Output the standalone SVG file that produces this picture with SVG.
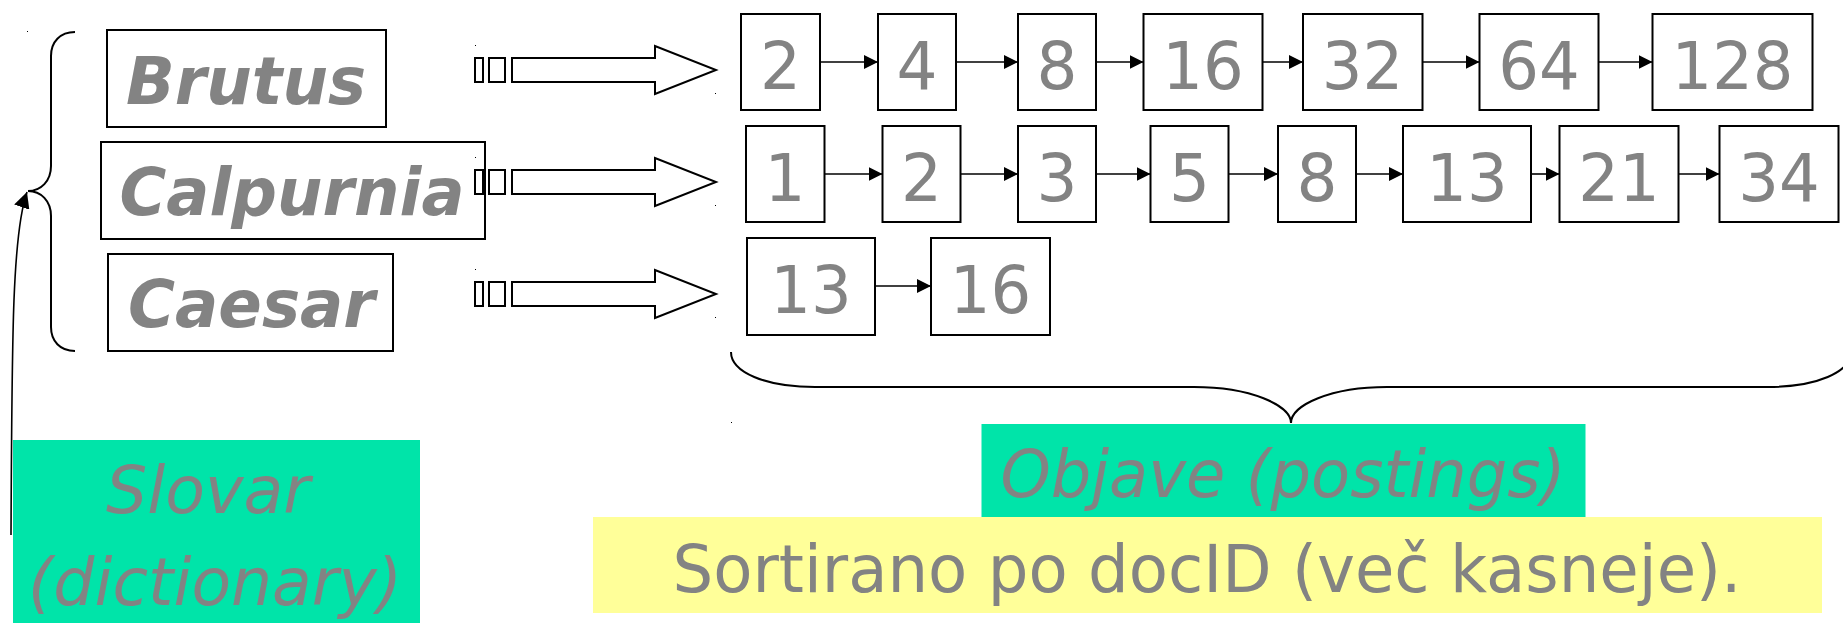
<svg xmlns="http://www.w3.org/2000/svg" width="1843" height="623" viewBox="0 0 1843 623">
  <style>
    .term rect { fill: #ffffff; stroke: #000000; stroke-width: 2; }
    .term text { font-family: "DejaVu Sans", "Noto Sans", sans-serif; font-size: 65px; font-weight: bold; font-style: italic; fill: #838383; text-anchor: middle; }
    .post rect { fill: #ffffff; stroke: #000000; stroke-width: 2; }
    .post text { font-family: "DejaVu Sans", "Noto Sans", sans-serif; font-size: 66px; fill: #838383; text-anchor: middle; }
    .link { stroke: #000000; stroke-width: 1.6; fill: none; }
    .brace { stroke: #000000; stroke-width: 2; fill: none; }
    .block { fill: #ffffff; stroke: #000000; stroke-width: 2; }
    .tick { fill: #000000; }
    .caption { font-family: "DejaVu Sans", "Noto Sans", sans-serif; font-size: 66px; fill: #838383; text-anchor: middle; }
  </style>
  <defs>
    <marker id="head" viewBox="0 0 14 14" refX="14" refY="7" markerWidth="14" markerHeight="14" markerUnits="userSpaceOnUse" orient="auto">
      <path d="M0,0 L14,7 L0,14 Z" fill="#000000"/>
    </marker>
    <marker id="headBig" viewBox="0 0 16 16" refX="16" refY="8" markerWidth="16" markerHeight="16" markerUnits="userSpaceOnUse" orient="auto">
      <path d="M0,0 L16,8 L0,16 Z" fill="#000000"/>
    </marker>
  </defs>

  <rect width="1843" height="623" fill="#ffffff"/>

  <!-- dictionary terms -->
  <g id="term-brutus" class="term">
    <rect x="107" y="30" width="279" height="97"/>
    <text x="246" y="104" textLength="240" lengthAdjust="spacingAndGlyphs">Brutus</text>
  </g>
  <g id="term-calpurnia" class="term">
    <rect x="101" y="142" width="384" height="97"/>
    <text x="292" y="215" textLength="345" lengthAdjust="spacingAndGlyphs">Calpurnia</text>
  </g>
  <g id="term-caesar" class="term">
    <rect x="108" y="254" width="285" height="97"/>
    <text x="251.5" y="327" textLength="247" lengthAdjust="spacingAndGlyphs">Caesar</text>
  </g>

  <!-- pointer arrows from terms to their lists -->
  <g id="pointer-1">
    <rect class="block" x="475" y="58" width="8" height="24"/>
    <rect class="block" x="489" y="58" width="16" height="24"/>
    <polygon class="block" points="512,58 655,58 655,46 716,70 655,94 655,82 512,82"/>
  </g>
  <g id="pointer-2">
    <rect class="block" x="475" y="170" width="8" height="24"/>
    <rect class="block" x="489" y="170" width="16" height="24"/>
    <polygon class="block" points="512,170 655,170 655,158 716,182 655,206 655,194 512,194"/>
  </g>
  <g id="pointer-3">
    <rect class="block" x="475" y="282" width="8" height="24"/>
    <rect class="block" x="489" y="282" width="16" height="24"/>
    <polygon class="block" points="512,282 655,282 655,270 716,294 655,318 655,306 512,306"/>
  </g>

  <!-- postings: Brutus -->
  <g id="p1-2" class="post"><rect x="741" y="14" width="79" height="96"/><text x="780.5" y="89" textLength="41" lengthAdjust="spacingAndGlyphs">2</text></g>
  <g id="p1-4" class="post"><rect x="878" y="14" width="78" height="96"/><text x="917" y="89" textLength="41" lengthAdjust="spacingAndGlyphs">4</text></g>
  <g id="p1-8" class="post"><rect x="1018" y="14" width="78" height="96"/><text x="1057" y="89" textLength="41" lengthAdjust="spacingAndGlyphs">8</text></g>
  <g id="p1-16" class="post"><rect x="1143.5" y="14" width="119" height="96"/><text x="1203" y="89" textLength="81.5" lengthAdjust="spacingAndGlyphs">16</text></g>
  <g id="p1-32" class="post"><rect x="1303" y="14" width="119.5" height="96"/><text x="1362.5" y="89" textLength="81.5" lengthAdjust="spacingAndGlyphs">32</text></g>
  <g id="p1-64" class="post"><rect x="1479.5" y="14" width="119" height="96"/><text x="1539" y="89" textLength="81.5" lengthAdjust="spacingAndGlyphs">64</text></g>
  <g id="p1-128" class="post"><rect x="1652.5" y="14" width="160" height="96"/><text x="1732.5" y="89" textLength="122" lengthAdjust="spacingAndGlyphs">128</text></g>

  <!-- postings: Calpurnia -->
  <g id="p2-1" class="post"><rect x="746" y="126" width="78.5" height="96"/><text x="785" y="200.5" textLength="41" lengthAdjust="spacingAndGlyphs">1</text></g>
  <g id="p2-2" class="post"><rect x="882.5" y="126" width="78" height="96"/><text x="921.5" y="200.5" textLength="41" lengthAdjust="spacingAndGlyphs">2</text></g>
  <g id="p2-3" class="post"><rect x="1018" y="126" width="78" height="96"/><text x="1057" y="200.5" textLength="41" lengthAdjust="spacingAndGlyphs">3</text></g>
  <g id="p2-5" class="post"><rect x="1150.5" y="126" width="78" height="96"/><text x="1189.5" y="200.5" textLength="41" lengthAdjust="spacingAndGlyphs">5</text></g>
  <g id="p2-8" class="post"><rect x="1278" y="126" width="78" height="96"/><text x="1317" y="200.5" textLength="41" lengthAdjust="spacingAndGlyphs">8</text></g>
  <g id="p2-13" class="post"><rect x="1403" y="126" width="128" height="96"/><text x="1467" y="200.5" textLength="81.5" lengthAdjust="spacingAndGlyphs">13</text></g>
  <g id="p2-21" class="post"><rect x="1559.5" y="126" width="119" height="96"/><text x="1619" y="200.5" textLength="81.5" lengthAdjust="spacingAndGlyphs">21</text></g>
  <g id="p2-34" class="post"><rect x="1719.5" y="126" width="119" height="96"/><text x="1779" y="200.5" textLength="81.5" lengthAdjust="spacingAndGlyphs">34</text></g>

  <!-- postings: Caesar -->
  <g id="p3-13" class="post"><rect x="747" y="238" width="128" height="97"/><text x="811" y="312.5" textLength="81.5" lengthAdjust="spacingAndGlyphs">13</text></g>
  <g id="p3-16" class="post"><rect x="931" y="238" width="119" height="97"/><text x="990.5" y="312.5" textLength="81.5" lengthAdjust="spacingAndGlyphs">16</text></g>

  <!-- list links -->
  <g id="connectors">
    <line class="link" x1="820" y1="62" x2="878" y2="62" marker-end="url(#head)"/>
    <line class="link" x1="956" y1="62" x2="1018" y2="62" marker-end="url(#head)"/>
    <line class="link" x1="1096" y1="62" x2="1143.5" y2="62" marker-end="url(#head)"/>
    <line class="link" x1="1262.5" y1="62" x2="1303" y2="62" marker-end="url(#head)"/>
    <line class="link" x1="1422.5" y1="62" x2="1479.5" y2="62" marker-end="url(#head)"/>
    <line class="link" x1="1598.5" y1="62" x2="1652.5" y2="62" marker-end="url(#head)"/>

    <line class="link" x1="824.5" y1="174" x2="882.5" y2="174" marker-end="url(#head)"/>
    <line class="link" x1="960.5" y1="174" x2="1018" y2="174" marker-end="url(#head)"/>
    <line class="link" x1="1096" y1="174" x2="1150.5" y2="174" marker-end="url(#head)"/>
    <line class="link" x1="1228.5" y1="174" x2="1278" y2="174" marker-end="url(#head)"/>
    <line class="link" x1="1356" y1="174" x2="1403" y2="174" marker-end="url(#head)"/>
    <line class="link" x1="1531" y1="174" x2="1559.5" y2="174" marker-end="url(#head)"/>
    <line class="link" x1="1678.5" y1="174" x2="1719.5" y2="174" marker-end="url(#head)"/>

    <line class="link" x1="875" y1="286" x2="931" y2="286" marker-end="url(#head)"/>

    <!-- pointer from the caption up to the dictionary brace -->
    <path class="link" d="M11,535 C12,340 12,235 27,192" stroke-width="2" marker-end="url(#headBig)"/>
  </g>

  <!-- braces -->
  <path id="brace-dictionary" class="brace" d="M75,32 C60,32 51,42 51,56 L51,166 C51,181 41,191 28,191 C41,191 51,201 51,216 L51,327 C51,341 60,351 75,351"/>
  <path id="brace-postings" class="brace" d="M731,352 C731,372 765,387 815,387 L1194,387 C1250,387 1291,405 1291,423 C1291,405 1331,387 1387,387 L1767,387 C1817,387 1851,372 1851,352"/>

  <!-- stray marks -->
  <g id="marks">
    <rect class="tick" x="27" y="31" width="1" height="1"/>
    <rect class="tick" x="475" y="45" width="1" height="1"/>
    <rect class="tick" x="475" y="157" width="1" height="1"/>
    <rect class="tick" x="475" y="269" width="1" height="1"/>
    <rect class="tick" x="715" y="93" width="1" height="1"/>
    <rect class="tick" x="715" y="205" width="1" height="1"/>
    <rect class="tick" x="715" y="317" width="1" height="1"/>
    <rect class="tick" x="731" y="422" width="1" height="1"/>
  </g>

  <!-- captions -->
  <g id="caption-dictionary">
    <rect x="13" y="440" width="407" height="183" fill="#00E4A9"/>
    <text class="caption" x="208" y="513" font-style="italic" textLength="204" lengthAdjust="spacingAndGlyphs">Slovar</text>
    <text class="caption" x="215" y="605" font-style="italic" textLength="374" lengthAdjust="spacingAndGlyphs">(dictionary)</text>
  </g>
  <g id="caption-postings">
    <rect x="981.5" y="424" width="604" height="93" fill="#00E4A9"/>
    <text class="caption" x="1283" y="497" font-size="65" font-style="italic" textLength="565" lengthAdjust="spacingAndGlyphs">Objave (postings)</text>
  </g>
  <g id="caption-sorted">
    <rect x="593" y="517" width="1229" height="96" fill="#FFFF99"/>
    <text class="caption" x="1207" y="592" font-size="64" textLength="1069" lengthAdjust="spacingAndGlyphs">Sortirano po docID (več kasneje).</text>
  </g>
</svg>
